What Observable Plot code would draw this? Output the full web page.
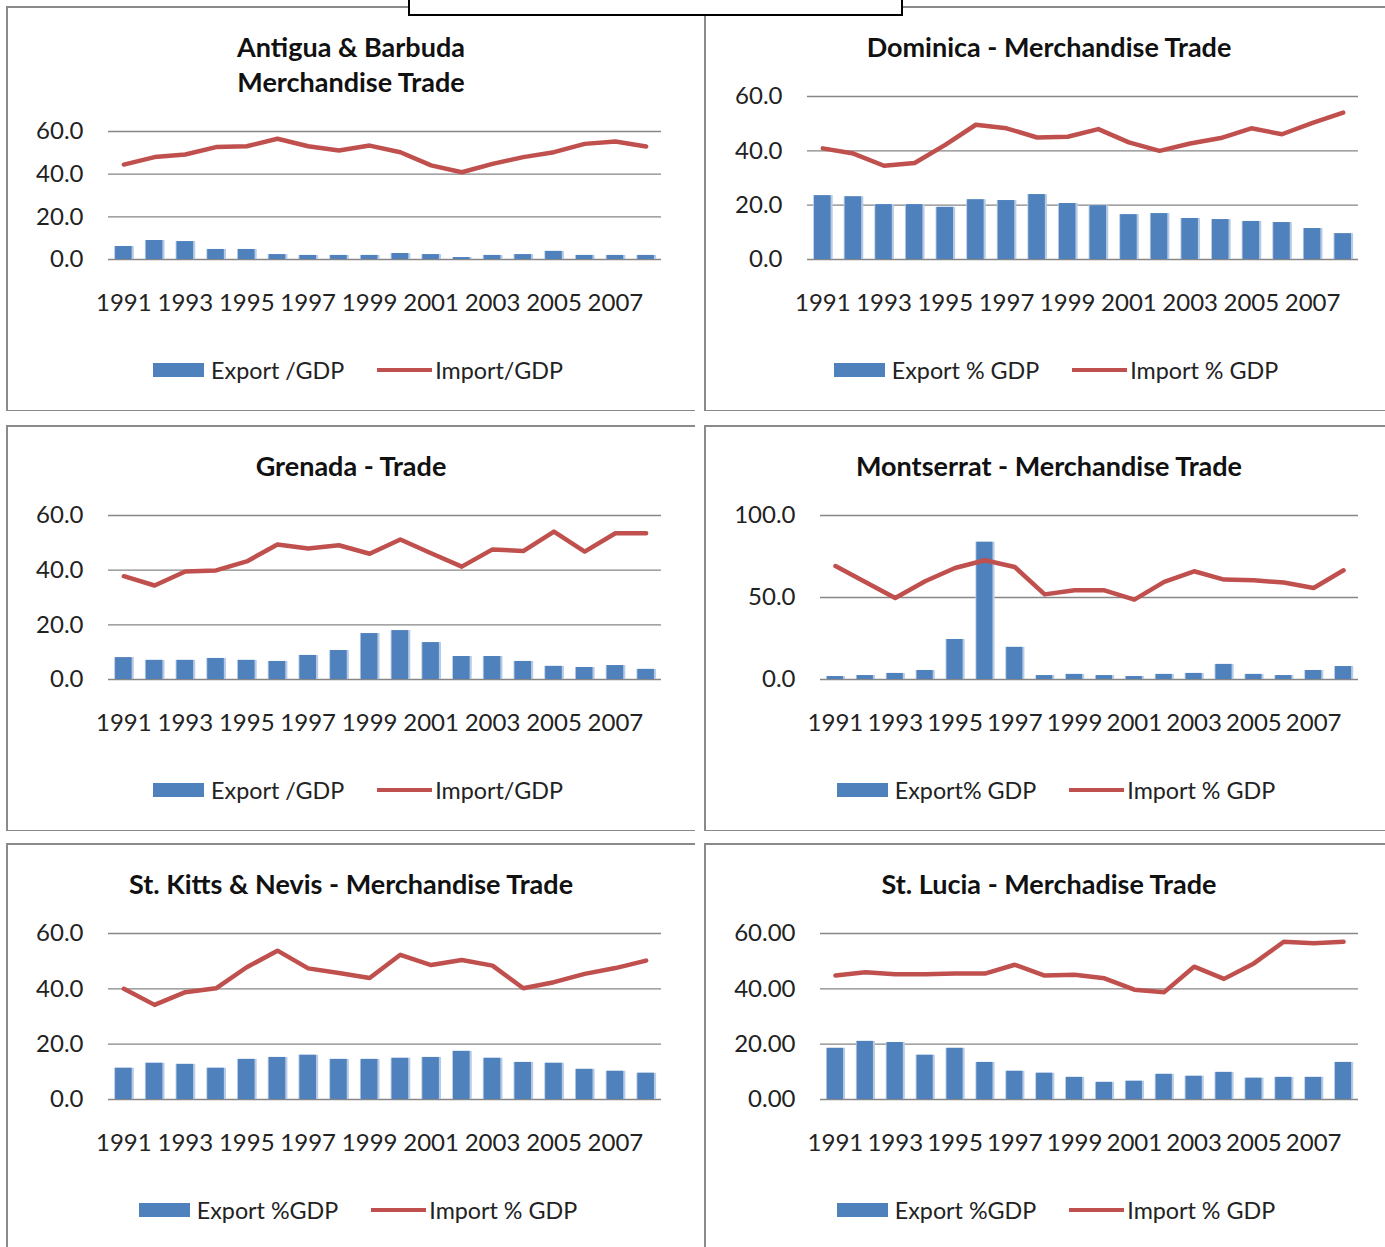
<!DOCTYPE html>
<html>
<head>
<meta charset="utf-8">
<script src="https://cdn.jsdelivr.net/npm/d3@7"></script>
<script src="https://cdn.jsdelivr.net/npm/@observablehq/plot@0.6"></script>
<style>
  body { margin: 0; background: #fff; }
  #page { position: relative; width: 1385px; height: 1247px; overflow: hidden; font-family: Lato, sans-serif; color: #1f1f1f; background: #fff; }
  .panel { position: absolute; box-sizing: border-box; border-left: 2.5px solid #8a8a8a; border-top: 2.5px solid #8a8a8a; border-bottom: 1.2px solid #8a8a8a; background: #fff; }
  .title { position: absolute; left: 0; width: 688px; text-align: center; font-weight: 700; font-size: 27px; line-height: 35px; color: #111; white-space: nowrap; }
  .legend { position: absolute; display: flex; align-items: center; justify-content: center; font-size: 23.3px; line-height: 30px; white-space: nowrap; color: #222; }
  .sw-bar { display: inline-block; width: 51px; height: 14px; background: #4F81BD; margin-right: 7px; }
  .sw-line { display: inline-block; width: 55px; height: 4px; background: #C0504D; margin-left: 33px; margin-right: 3px; }
  .chart { position: absolute; }
  .topbox { position: absolute; left: 408px; top: -12px; width: 495px; height: 28px; box-sizing: border-box; border: 2.4px solid #000; background: #fff; }
</style>
</head>
<body>
<div id="page"></div>
<script>
// Years on the category axis and the labelled subset
const years = [1991, 1992, 1993, 1994, 1995, 1996, 1997, 1998, 1999, 2000, 2001, 2002, 2003, 2004, 2005, 2006, 2007, 2008];
const yearLabels = [1991, 1993, 1995, 1997, 1999, 2001, 2003, 2005, 2007];

// Antigua & Barbuda
const antiguaExport = [6.1, 8.9, 8.4, 4.7, 4.7, 2.3, 1.9, 1.9, 1.9, 2.8, 2.3, 0.9, 1.9, 2.3, 3.8, 1.9, 1.9, 1.9];
const antiguaImport = [44.5, 48.0, 49.2, 52.7, 53.1, 56.6, 53.1, 51.1, 53.4, 50.3, 44.1, 40.9, 44.8, 48.0, 50.3, 54.2, 55.3, 53.0];

// Dominica
const dominicaExport = [23.5, 23.1, 20.2, 20.2, 19.2, 22.0, 21.7, 23.9, 20.6, 19.8, 16.5, 16.9, 15.1, 14.7, 14.0, 13.6, 11.4, 9.5];
const dominicaImport = [40.9, 39.0, 34.5, 35.5, 42.2, 49.6, 48.3, 44.9, 45.2, 48.0, 43.1, 40.0, 42.7, 44.7, 48.3, 46.1, 50.3, 54.1];

// Grenada
const grenadaExport = [8.0, 7.0, 7.0, 7.7, 7.0, 6.6, 8.8, 10.6, 16.8, 17.9, 13.5, 8.4, 8.4, 6.6, 4.8, 4.4, 5.1, 3.7];
const grenadaImport = [37.8, 34.4, 39.5, 39.9, 43.2, 49.4, 47.9, 49.1, 46.0, 51.2, 46.2, 41.3, 47.6, 47.0, 54.1, 46.8, 53.5, 53.5];

// Montserrat
const montserratExport = [1.8, 2.4, 3.7, 5.5, 24.4, 83.7, 19.6, 2.4, 3.1, 2.4, 1.8, 3.1, 3.7, 9.2, 3.1, 2.4, 5.5, 7.9];
const montserratImport = [69.2, 59.5, 49.7, 59.9, 68.0, 72.7, 68.6, 51.9, 54.4, 54.4, 48.7, 59.5, 66.0, 60.9, 60.5, 59.1, 55.8, 66.6];

// St. Kitts & Nevis
const stKittsExport = [11.3, 13.1, 12.7, 11.3, 14.5, 15.2, 16.0, 14.5, 14.5, 14.9, 15.2, 17.4, 14.9, 13.4, 13.1, 10.9, 10.2, 9.5];
const stKittsImport = [40.0, 34.2, 38.8, 40.2, 47.8, 53.8, 47.4, 45.7, 43.9, 52.3, 48.6, 50.4, 48.4, 40.2, 42.4, 45.4, 47.5, 50.2];

// St. Lucia
const stLuciaExport = [18.5, 21.0, 20.6, 16.0, 18.5, 13.4, 10.2, 9.5, 8.0, 6.2, 6.6, 9.1, 8.4, 9.8, 7.7, 8.0, 8.0, 13.4];
const stLuciaImport = [44.8, 46.0, 45.3, 45.3, 45.5, 45.5, 48.7, 44.8, 45.1, 43.8, 39.7, 38.8, 48.0, 43.6, 49.2, 57.0, 56.5, 57.0];

// Value-axis ticks
const ticks60 = [0, 20, 40, 60];
const ticks100 = [0, 50, 100];

const panels = [
  { title: ["Antigua & Barbuda", "Merchandise Trade"], exp: antiguaExport, imp: antiguaImport,
    expLabel: "Export /GDP", impLabel: "Import/GDP", ticks: ticks60, decimals: 1,
    box: { left: 6, top: 6, height: 405 }, plot: { left: 108, right: 661, top: 131, zero: 259 }, legendY: 370 },
  { title: ["Dominica - Merchandise Trade"], exp: dominicaExport, imp: dominicaImport,
    expLabel: "Export % GDP", impLabel: "Import % GDP", ticks: ticks60, decimals: 1,
    box: { left: 704, top: 6, height: 405 }, plot: { left: 807, right: 1358, top: 96, zero: 259 }, legendY: 370 },
  { title: ["Grenada - Trade"], exp: grenadaExport, imp: grenadaImport,
    expLabel: "Export /GDP", impLabel: "Import/GDP", ticks: ticks60, decimals: 1,
    box: { left: 6, top: 425, height: 406 }, plot: { left: 108, right: 661, top: 515, zero: 679 }, legendY: 790 },
  { title: ["Montserrat - Merchandise Trade"], exp: montserratExport, imp: montserratImport,
    expLabel: "Export% GDP", impLabel: "Import % GDP", ticks: ticks100, decimals: 1,
    box: { left: 704, top: 425, height: 406 }, plot: { left: 820, right: 1358, top: 515, zero: 679 }, legendY: 790 },
  { title: ["St. Kitts & Nevis - Merchandise Trade"], exp: stKittsExport, imp: stKittsImport,
    expLabel: "Export %GDP", impLabel: "Import % GDP", ticks: ticks60, decimals: 1,
    box: { left: 6, top: 843, height: 420 }, plot: { left: 108, right: 661, top: 933, zero: 1099 }, legendY: 1210 },
  { title: ["St. Lucia - Merchadise Trade"], exp: stLuciaExport, imp: stLuciaImport,
    expLabel: "Export %GDP", impLabel: "Import % GDP", ticks: ticks60, decimals: 2,
    box: { left: 704, top: 843, height: 420 }, plot: { left: 820, right: 1358, top: 933, zero: 1099 }, legendY: 1210 }
];

const page = document.getElementById("page");
const PANEL_W = 688;

for (const p of panels) {
  // frame
  const frame = document.createElement("div");
  frame.className = "panel";
  Object.assign(frame.style, { left: p.box.left + "px", top: p.box.top + "px", width: (PANEL_W + 1) + "px", height: p.box.height + "px" });
  page.appendChild(frame);

  // title
  const title = document.createElement("div");
  title.className = "title";
  title.style.left = (p.box.left + 1) + "px";
  title.style.top = (p.box.top + 23) + "px";
  title.innerHTML = p.title.map(t => t.replace(/&/g, "&amp;")).join("<br>");
  page.appendChild(title);

  // chart
  const rows = years.map((year, i) => ({ year, exp: p.exp[i], imp: p.imp[i] }));
  const mL = 110, mR = 20, mT = 20, mB = 70;
  const ymax = p.ticks[p.ticks.length - 1];
  const chart = Plot.plot({
    width: mL + (p.plot.right - p.plot.left) + mR,
    height: mT + (p.plot.zero - p.plot.top) + mB,
    marginLeft: mL, marginRight: mR, marginTop: mT, marginBottom: mB,
    style: { fontFamily: "Lato, sans-serif", fontSize: "24px", color: "#222", background: "transparent", overflow: "visible" },
    x: { type: "linear", domain: [1990.5, 2008.5], label: null },
    y: { domain: [0, ymax], label: null },
    marks: [
      Plot.gridY(p.ticks, { stroke: "#868686", strokeOpacity: 1, strokeWidth: 1.3 }),
      Plot.rect(rows, { x1: d => d.year - 0.3, x2: d => d.year + 0.34, y1: 0, y2: "exp", fill: "#b8cbe5" }),
      Plot.rect(rows, { x1: d => d.year - 0.27, x2: d => d.year + 0.27, y1: 0, y2: "exp", fill: "#4F81BD" }),
      Plot.line(rows, { x: "year", y: "imp", stroke: "#C0504D", strokeWidth: 4.5, strokeLinejoin: "round" }),
      Plot.axisY(p.ticks, { tickSize: 0, tickPadding: 25, tickFormat: d => d.toFixed(p.decimals), label: null }),
      Plot.axisX(yearLabels, { tickSize: 0, tickPadding: 34, tickFormat: d => String(d), label: null })
    ]
  });
  chart.classList.add("chart");
  chart.style.left = (p.plot.left - mL) + "px";
  chart.style.top = (p.plot.top - mT) + "px";
  page.appendChild(chart);

  // legend
  const legend = document.createElement("div");
  legend.className = "legend";
  Object.assign(legend.style, { left: (p.box.left + 8) + "px", width: PANEL_W + "px", top: (p.legendY - 15) + "px" });
  legend.innerHTML = `<span class="sw-bar"></span><span>${p.expLabel}</span><span class="sw-line"></span><span>${p.impLabel}</span>`;
  page.appendChild(legend);
}

// boxed header overlapping the top frames
const topbox = document.createElement("div");
topbox.className = "topbox";
page.appendChild(topbox);
</script>
</body>
</html>
